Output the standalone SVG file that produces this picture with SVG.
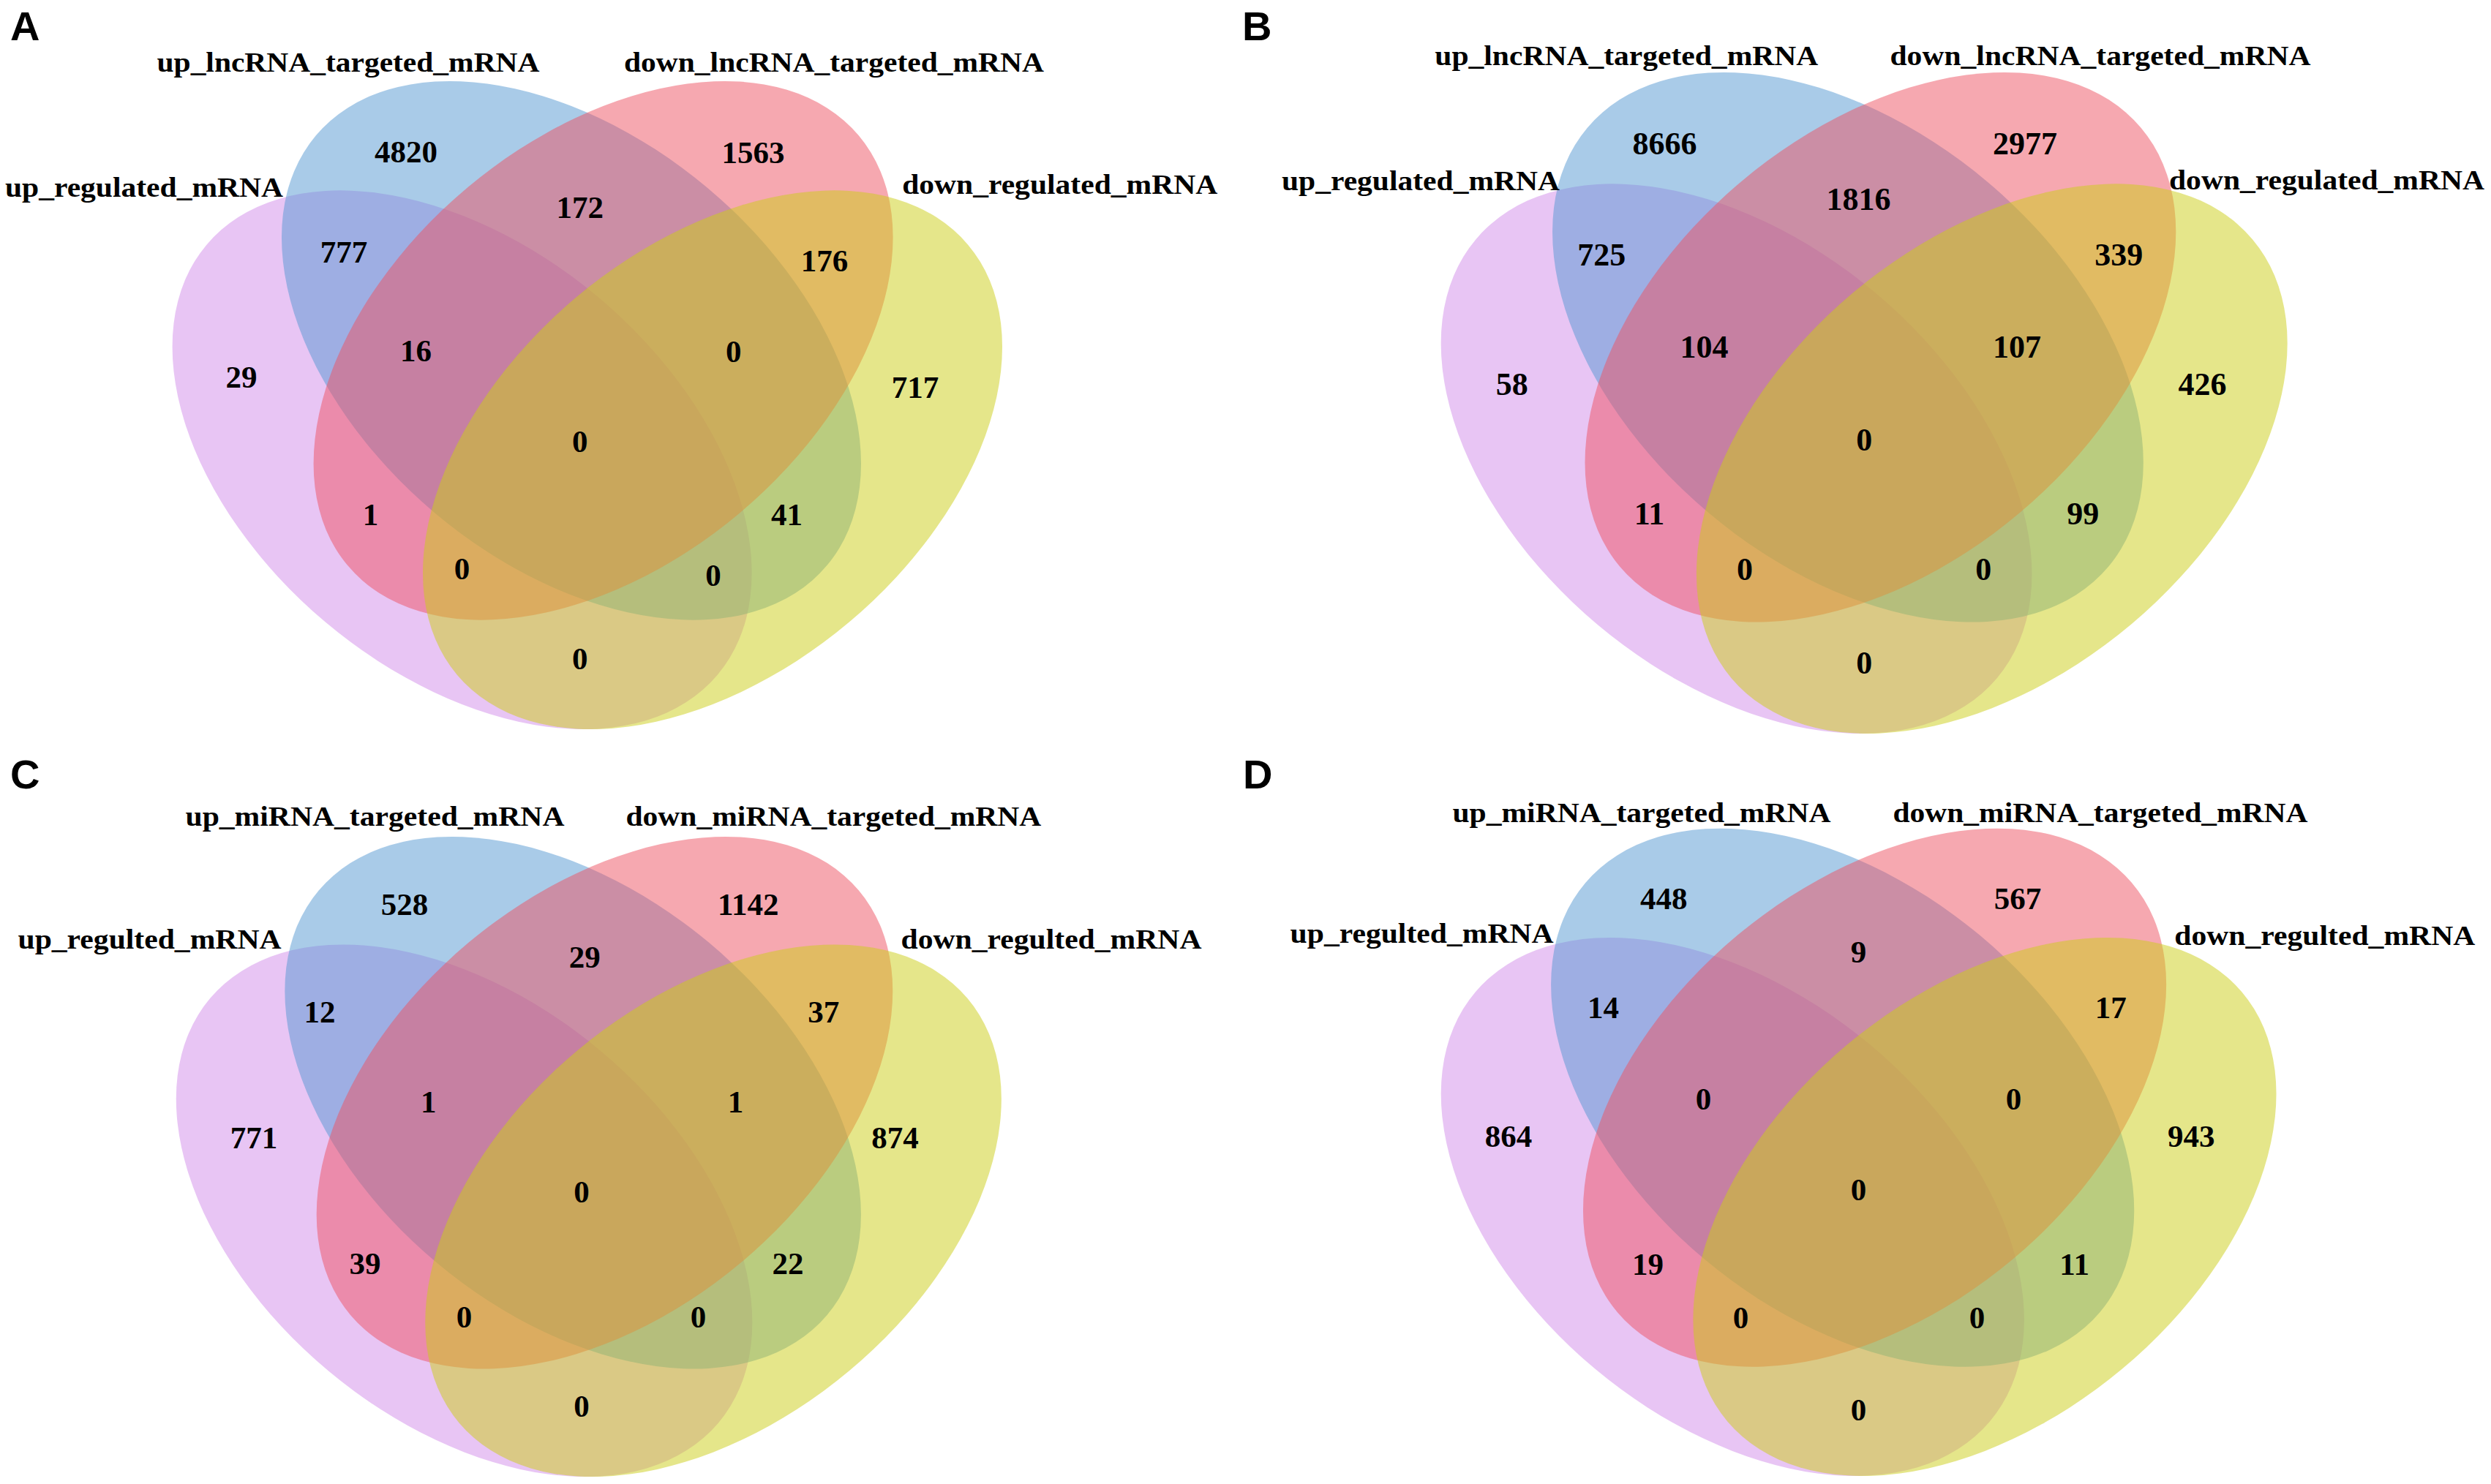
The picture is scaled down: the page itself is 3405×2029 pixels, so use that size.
<svg xmlns="http://www.w3.org/2000/svg" width="3405" height="2029" viewBox="0 0 3405 2029">
<style>
.bg{fill:#ffffff}
.ell{fill-opacity:0.5;stroke:none}
.s1{fill:#D18BE9}
.s2{fill:#5397D1}
.s3{fill:#ED5161}
.s4{fill:#CBCD15}
.lab{font-family:"Liberation Serif","Times New Roman",serif;font-weight:bold;font-size:38px;text-anchor:middle;fill:#000}
.num{font-family:"Liberation Serif","Times New Roman",serif;font-weight:bold;font-size:43px;text-anchor:middle;fill:#000}
.numB{font-size:44px}
.tag{font-family:"Liberation Sans",Arial,sans-serif;font-weight:bold;font-size:56px;fill:#000}
</style>
<defs>
<g id="venn">
<ellipse class="ell s1" cx="631.6" cy="628.7" rx="456.5" ry="290" transform="rotate(40.1 631.6 628.7)"/>
<ellipse class="ell s2" cx="781" cy="479.3" rx="456.5" ry="290" transform="rotate(40.1 781 479.3)"/>
<ellipse class="ell s3" cx="824.6" cy="479.3" rx="456.5" ry="290" transform="rotate(-40.1 824.6 479.3)"/>
<ellipse class="ell s4" cx="974" cy="628.7" rx="456.5" ry="290" transform="rotate(-40.1 974 628.7)"/>
</g>
</defs>
<rect class="bg" x="0" y="0" width="3405" height="2029"/>

<g id="panelA">
<g id="A_sets"><use href="#venn"/></g>
<text class="tag" x="14" y="55">A</text>
<g id="A_labels">
<text class="lab" x="476" y="97.5" textLength="523" lengthAdjust="spacingAndGlyphs">up_lncRNA_targeted_mRNA</text>
<text class="lab" x="1140" y="97.5" textLength="574" lengthAdjust="spacingAndGlyphs">down_lncRNA_targeted_mRNA</text>
<text class="lab" x="197" y="269" textLength="380" lengthAdjust="spacingAndGlyphs">up_regulated_mRNA</text>
<text class="lab" x="1448.7" y="264.7" textLength="431" lengthAdjust="spacingAndGlyphs">down_regulated_mRNA</text>
</g>
<g id="A_counts">
<text class="num" x="555" y="222">4820</text>
<text class="num" x="1029.5" y="222.5">1563</text>
<text class="num" x="792.7" y="297.5">172</text>
<text class="num" x="470" y="359">777</text>
<text class="num" x="1127" y="371">176</text>
<text class="num" x="568.5" y="494">16</text>
<text class="num" x="1002.7" y="494.5">0</text>
<text class="num" x="330" y="530">29</text>
<text class="num" x="1251" y="543.6">717</text>
<text class="num" x="792.7" y="618">0</text>
<text class="num" x="506.5" y="717.5">1</text>
<text class="num" x="1075.5" y="718">41</text>
<text class="num" x="631.5" y="791.6">0</text>
<text class="num" x="975" y="801">0</text>
<text class="num" x="792.7" y="914.5">0</text>
</g>
</g>

<g id="panelB">
<g id="B_sets"><use href="#venn" transform="translate(1729.4 -14.3) scale(1.0199 1.0203)"/></g>
<text class="tag" x="1698" y="55">B</text>
<g id="B_labels">
<text class="lab" x="2223.3" y="88.7" textLength="524" lengthAdjust="spacingAndGlyphs">up_lncRNA_targeted_mRNA</text>
<text class="lab" x="2871" y="88.7" textLength="575" lengthAdjust="spacingAndGlyphs">down_lncRNA_targeted_mRNA</text>
<text class="lab" x="1942" y="260" textLength="380" lengthAdjust="spacingAndGlyphs">up_regulated_mRNA</text>
<text class="lab" x="3180.5" y="258.5" textLength="431" lengthAdjust="spacingAndGlyphs">down_regulated_mRNA</text>
</g>
<g id="B_counts">
<text class="num numB" x="2275.6" y="211.2">8666</text>
<text class="num numB" x="2767.9" y="210.5">2977</text>
<text class="num numB" x="2540.6" y="286.5">1816</text>
<text class="num numB" x="2189.3" y="363">725</text>
<text class="num numB" x="2896.2" y="362.5">339</text>
<text class="num numB" x="2329.6" y="488.6">104</text>
<text class="num numB" x="2757" y="488.6">107</text>
<text class="num numB" x="2066.8" y="539.5">58</text>
<text class="num numB" x="3010.4" y="540">426</text>
<text class="num numB" x="2548.2" y="616">0</text>
<text class="num numB" x="2254.6" y="716.5">11</text>
<text class="num numB" x="2847.2" y="716.5">99</text>
<text class="num numB" x="2385" y="793">0</text>
<text class="num numB" x="2711.3" y="793">0</text>
<text class="num numB" x="2548.2" y="920.5">0</text>
</g>
</g>

<g id="panelC">
<g id="C_sets"><use href="#venn" transform="translate(6.5 1034.3) scale(0.9944 0.9877)"/></g>
<text class="tag" x="14" y="1078">C</text>
<g id="C_labels">
<text class="lab" x="512.5" y="1129" textLength="518" lengthAdjust="spacingAndGlyphs">up_miRNA_targeted_mRNA</text>
<text class="lab" x="1139.4" y="1129" textLength="568" lengthAdjust="spacingAndGlyphs">down_miRNA_targeted_mRNA</text>
<text class="lab" x="204.5" y="1297" textLength="360" lengthAdjust="spacingAndGlyphs">up_regulted_mRNA</text>
<text class="lab" x="1437" y="1297" textLength="411" lengthAdjust="spacingAndGlyphs">down_regulted_mRNA</text>
</g>
<g id="C_counts">
<text class="num" x="553.1" y="1251">528</text>
<text class="num" x="1022.8" y="1251">1142</text>
<text class="num" x="799.3" y="1323">29</text>
<text class="num" x="437.1" y="1398">12</text>
<text class="num" x="1125.8" y="1398">37</text>
<text class="num" x="585.7" y="1520.7">1</text>
<text class="num" x="1005.4" y="1520.7">1</text>
<text class="num" x="347.1" y="1569.7">771</text>
<text class="num" x="1223.4" y="1569.7">874</text>
<text class="num" x="795" y="1643.5">0</text>
<text class="num" x="498.9" y="1741.5">39</text>
<text class="num" x="1077" y="1741.5">22</text>
<text class="num" x="634.5" y="1814.6">0</text>
<text class="num" x="954.4" y="1814.6">0</text>
<text class="num" x="795" y="1937.4">0</text>
</g>
</g>

<g id="panelD">
<g id="D_sets"><use href="#venn" transform="translate(1732.6 1021.9) scale(1.0065 0.999)"/></g>
<text class="tag" x="1699" y="1078">D</text>
<g id="D_labels">
<text class="lab" x="2244" y="1123.5" textLength="517" lengthAdjust="spacingAndGlyphs">up_miRNA_targeted_mRNA</text>
<text class="lab" x="2871" y="1123.5" textLength="567" lengthAdjust="spacingAndGlyphs">down_miRNA_targeted_mRNA</text>
<text class="lab" x="1943.6" y="1288.8" textLength="360" lengthAdjust="spacingAndGlyphs">up_regulted_mRNA</text>
<text class="lab" x="3177.8" y="1292" textLength="411" lengthAdjust="spacingAndGlyphs">down_regulted_mRNA</text>
</g>
<g id="D_counts">
<text class="num" x="2274.2" y="1243">448</text>
<text class="num" x="2758.1" y="1243">567</text>
<text class="num" x="2540.6" y="1316">9</text>
<text class="num" x="2191.5" y="1391.5">14</text>
<text class="num" x="2885.3" y="1391.5">17</text>
<text class="num" x="2328.5" y="1517">0</text>
<text class="num" x="2752.4" y="1517">0</text>
<text class="num" x="2062.1" y="1568">864</text>
<text class="num" x="2995.3" y="1568">943</text>
<text class="num" x="2540.6" y="1641">0</text>
<text class="num" x="2252.4" y="1742.5">19</text>
<text class="num" x="2835.6" y="1742.5">11</text>
<text class="num" x="2379.6" y="1816">0</text>
<text class="num" x="2702.6" y="1816">0</text>
<text class="num" x="2540.6" y="1941.5">0</text>
</g>
</g>
</svg>
